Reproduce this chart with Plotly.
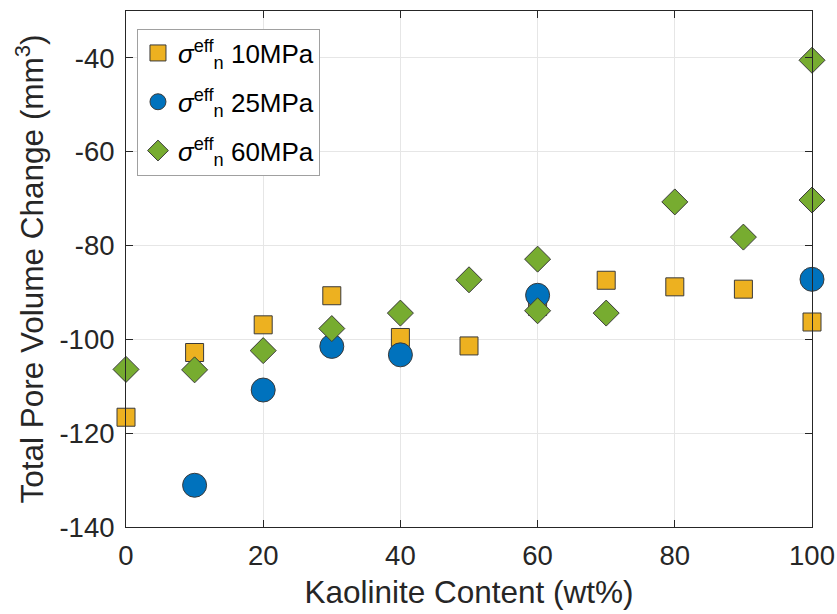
import plotly.graph_objects as go

# Data
x_10 = [0, 10, 20, 30, 40, 50, 60, 70, 80, 90, 100]
y_10 = [-116.6, -102.8, -96.9, -90.7, -99.6, -101.4, -93.0, -87.4, -88.8, -89.3, -96.3]

x_25 = [10, 20, 30, 40, 60, 100]
y_25 = [-131.1, -110.8, -101.5, -103.3, -90.6, -87.2]

x_60 = [0, 10, 20, 30, 40, 50, 60, 60, 70, 80, 90, 100, 100]
y_60 = [-106.4, -106.5, -102.4, -97.7, -94.4, -87.3, -82.9, -93.9, -94.4, -70.7, -78.2, -40.5, -70.3]

x_ticks = [0, 20, 40, 60, 80, 100]
x_ticktext = ["0", "20", "40", "60", "80", "100"]
y_ticks = [-140, -120, -100, -80, -60, -40]
y_ticktext = ["-140", "-120", "-100", "-80", "-60", "-40"]

names = ["<i>σ</i><sup>eff</sup><sub>n</sub> 10MPa",
         "<i>σ</i><sup>eff</sup><sub>n</sub> 25MPa",
         "<i>σ</i><sup>eff</sup><sub>n</sub> 60MPa"]

edge = dict(color="#3a3a3a", width=1)
fig = go.Figure()
fig.add_trace(go.Scatter(x=x_10, y=y_10, mode="markers", name=names[0], legendgroup="g10",
                         cliponaxis=False,
                         marker=dict(symbol="square", size=18, color="#EDB120", line=edge)))
fig.add_trace(go.Scatter(x=x_25, y=y_25, mode="markers", name=names[1], legendgroup="g25",
                         cliponaxis=False,
                         marker=dict(symbol="circle", size=24, color="#0072BD", line=edge)))
fig.add_trace(go.Scatter(x=x_60, y=y_60, mode="markers", name=names[2], legendgroup="g60",
                         cliponaxis=False,
                         marker=dict(symbol="diamond", size=20, color="#77AC30", line=edge)))

axis_common = dict(showline=True, linecolor="#262626", linewidth=1, mirror="ticks",
                   ticks="inside", ticklen=7, tickcolor="#262626",
                   showgrid=True, gridcolor="#e6e6e6", gridwidth=1, zeroline=False,
                   ticklabeloverflow="allow", automargin=False,
                   tickfont=dict(size=27.5, color="#262626"))

fig.update_layout(
    width=837, height=614,
    margin=dict(l=126, r=25, t=11, b=87),
    paper_bgcolor="white", plot_bgcolor="white",
    font=dict(family="Liberation Sans, Arial, sans-serif", color="#262626"),
    xaxis=dict(range=[0, 100], tickvals=x_ticks, ticktext=x_ticktext, ticklabelstandoff=4,
               title=dict(text="Kaolinite Content (wt%)", font=dict(size=31.5), standoff=10),
               **axis_common),
    yaxis=dict(range=[-140, -30], tickvals=y_ticks, ticktext=y_ticktext, ticklabelstandoff=5,
               title=dict(text="Total Pore Volume Change (mm<sup>3</sup>)", font=dict(size=31.5), standoff=6),
               **axis_common),
    legend=dict(x=0.016, y=0.966, xanchor="left", yanchor="top",
                bgcolor="white", bordercolor="#a0a0a0", borderwidth=1,
                font=dict(size=26, color="#000000"), tracegroupgap=12),
    showlegend=True,
)

# remove the default 8px page margin so the figure fills the window exactly
fig.write_html("out.html", config={"displayModeBar": False},
               post_script="document.body.style.margin='0px';")
